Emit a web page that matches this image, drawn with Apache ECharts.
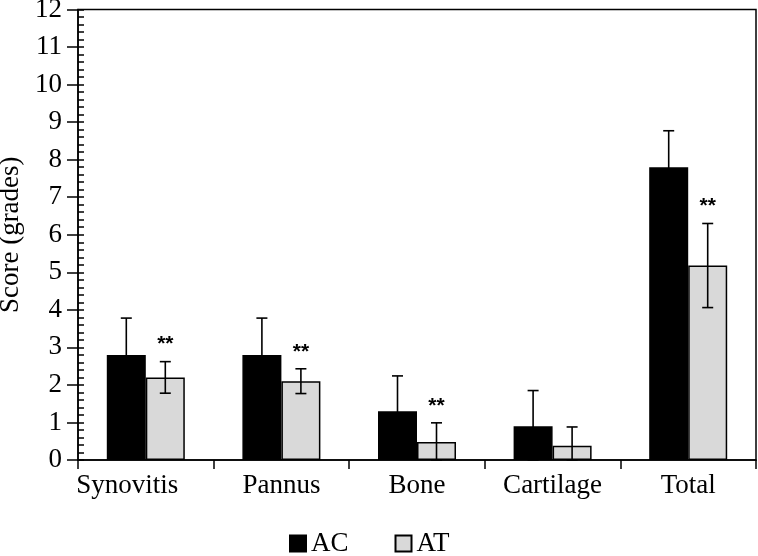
<!DOCTYPE html>
<html>
<head>
<meta charset="utf-8">
<script src="https://cdn.jsdelivr.net/npm/echarts@6/dist/echarts.min.js"></script>
<style>
html,body{margin:0;padding:0;background:#fff;}
#chart{width:758px;height:556px;}
</style>
</head>
<body>
<div id="chart"></div>
<script>
var categories = ['Synovitis', 'Pannus', 'Bone', 'Cartilage', 'Total'];
var acValues = [2.8, 2.8, 1.3, 0.9, 7.8];
var acErrors = [0.98, 0.98, 0.94, 0.95, 0.97];
var atValues = [2.2, 2.1, 0.48, 0.38, 5.18];
var atErrors = [0.42, 0.33, 0.51, 0.5, 1.12];
var atSignificance = ['**', '**', '**', '', '**'];
var yTicks = [0, 12, 1];

var FONT = 'Liberation Serif';
var FS = 27;
var BAR_W = 39;

var chart = echarts.init(document.getElementById('chart'), null, {renderer: 'canvas'});

function errorSeries(name, values, errors, side, marks) {
  var data = values.map(function (v, i) {
    return [i, v, Math.max(0, v - errors[i]), v + errors[i], marks ? marks[i] : ''];
  });
  return {
    type: 'custom',
    name: name + ' err',
    silent: true,
    z: 5,
    data: data,
    renderItem: function (params, api) {
      var i = api.value(0);
      var hi = api.coord([i, api.value(3)]);
      var lo = api.coord([i, api.value(2)]);
      var x = hi[0] + side * BAR_W / 2;
      var cap = 5.5;
      var style = {stroke: '#000', lineWidth: 1.6};
      var children = [
        {type: 'line', shape: {x1: x, y1: hi[1], x2: x, y2: lo[1]}, style: style},
        {type: 'line', shape: {x1: x - cap, y1: hi[1], x2: x + cap, y2: hi[1]}, style: style},
        {type: 'line', shape: {x1: x - cap, y1: lo[1], x2: x + cap, y2: lo[1]}, style: style}
      ];
      var mark = data[params.dataIndex][4];
      if (mark) {
        children.push({
          type: 'text',
          style: {
            text: mark, x: x, y: hi[1] - 17,
            align: 'center', verticalAlign: 'middle',
            font: 'bold 21px "Liberation Sans"', fill: '#000'
          }
        });
      }
      return {type: 'group', children: children};
    }
  };
}

var categoryData = categories.map(function (c, i) {
  return i === 0 ? {value: c, textStyle: {padding: [0, 37, 0, 0]}} : c;
});

var option = {
  backgroundColor: '#fff',
  animation: false,
  grid: {
    left: 78, right: 2, top: 9.5, bottom: 96,
    containLabel: false,
    outerBoundsMode: 'none',
    show: true, borderColor: '#000', borderWidth: 1.5, backgroundColor: 'transparent'
  },
  legend: {
    data: ['AC', 'AT'],
    left: 289, top: 530, padding: 0,
    itemWidth: 16, itemHeight: 16, itemGap: 46,
    icon: 'rect',
    textStyle: {fontFamily: FONT, fontSize: FS, color: '#000', padding: [0, 0, 0, 0]}
  },
  xAxis: {
    type: 'category',
    data: categoryData,
    boundaryGap: true,
    axisLine: {lineStyle: {color: '#000', width: 1.5}},
    axisTick: {show: true, length: 9, inside: false, lineStyle: {color: '#000', width: 1.5}},
    axisLabel: {fontFamily: FONT, fontSize: FS, color: '#000', margin: 12, interval: 0},
    splitLine: {show: false}
  },
  yAxis: [{
    type: 'value',
    min: yTicks[0], max: yTicks[1], interval: yTicks[2],
    name: 'Score (grades)',
    nameLocation: 'middle',
    nameRotate: 90,
    nameGap: 44,
    nameTextStyle: {fontFamily: FONT, fontSize: FS, color: '#000', padding: [6, 0, 0, 0]},
    axisLine: {show: true, lineStyle: {color: '#000', width: 1.5}},
    axisTick: {show: true, length: 11, inside: false, lineStyle: {color: '#000', width: 1.5}},
    axisLabel: {fontFamily: FONT, fontSize: FS, color: '#000', margin: 16},
    splitLine: {show: false}
  }, {
    type: 'value',
    position: 'left',
    min: yTicks[0], max: yTicks[1], interval: yTicks[2] / 5,
    axisLine: {show: false},
    axisTick: {show: true, length: 6, inside: true, lineStyle: {color: '#000', width: 1.5}},
    axisLabel: {show: false},
    splitLine: {show: false}
  }],
  series: [{
    name: 'AC',
    type: 'bar',
    data: acValues,
    barWidth: BAR_W,
    barGap: '0%',
    itemStyle: {color: '#000', borderColor: '#000', borderWidth: 1.5}
  }, {
    name: 'AT',
    type: 'bar',
    data: atValues,
    barWidth: BAR_W,
    barGap: '0%',
    itemStyle: {color: '#d9d9d9', borderColor: '#000', borderWidth: 1.5}
  },
  errorSeries('AC', acValues, acErrors, -1, null),
  errorSeries('AT', atValues, atErrors, 1, atSignificance)
  ]
};
chart.setOption(option);
</script>
</body>
</html>
